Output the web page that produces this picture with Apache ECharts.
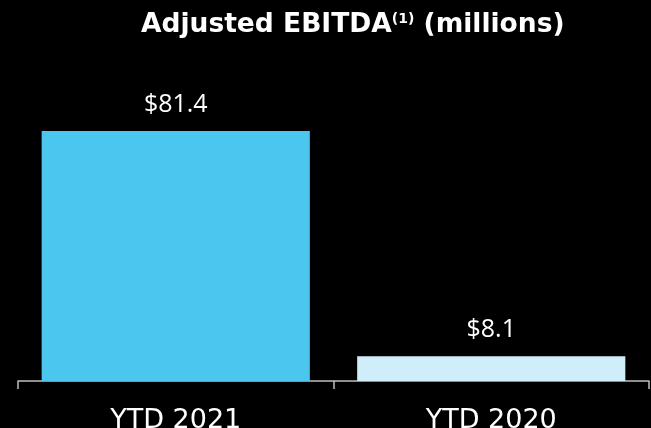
<!DOCTYPE html>
<html><head><meta charset="utf-8">
<script src="https://cdn.jsdelivr.net/npm/echarts@6/dist/echarts.min.js"></script>
<style>html,body{margin:0;padding:0;background:#000;}#c{width:651px;height:428px;}</style>
</head><body><div id="c"></div>
<script>
const categories = ['YTD 2021', 'YTD 2020'];
const values = [81.4, 8.1];
const valueLabels = ['$81.4', '$8.1'];
const barColors = ['#4BC6EE', '#CFEEF9'];

const chart = echarts.init(document.getElementById('c'));
chart.setOption({
  backgroundColor: '#000',
  animation: false,
  title: {
    text: '{b|Adjusted EBITDA}{s|(1)}{b| (millions)}',
    left: 136, top: 7,
    textStyle: {
      rich: {
        b: {fontFamily: 'DejaVu Sans', fontWeight: 'bold', fontSize: 26.5, color: '#fff'},
        s: {fontFamily: 'DejaVu Sans', fontWeight: 'bold', fontSize: 14, color: '#fff', verticalAlign: 'top', padding: [0,0,10,0]}
      }
    }
  },
  grid: {left: 18, right: 2, top: 74, bottom: 47, containLabel: false, outerBoundsMode: 'none'},
  xAxis: {
    type: 'category', data: categories,
    axisLine: {lineStyle: {color: '#bfbfbf', width: 1.5}},
    axisTick: {show: true, length: 8, lineStyle: {color: '#bfbfbf', width: 1.5}},
    axisLabel: {color: '#fff', fontSize: 27, fontFamily: 'DejaVu Sans', margin: 26}
  },
  yAxis: {type: 'value', min: 0, max: 100, show: false, splitLine: {show: false}},
  series: [{
    type: 'bar',
    barCategoryGap: '15%',
    data: values.map((v, i) => ({value: v, itemStyle: {color: barColors[i]}})),
    label: {
      show: true, position: 'top', distance: 14,
      color: '#fff', fontSize: 25, fontFamily: 'Open Sans',
      formatter: p => valueLabels[p.dataIndex]
    }
  }]
});
</script></body></html>
